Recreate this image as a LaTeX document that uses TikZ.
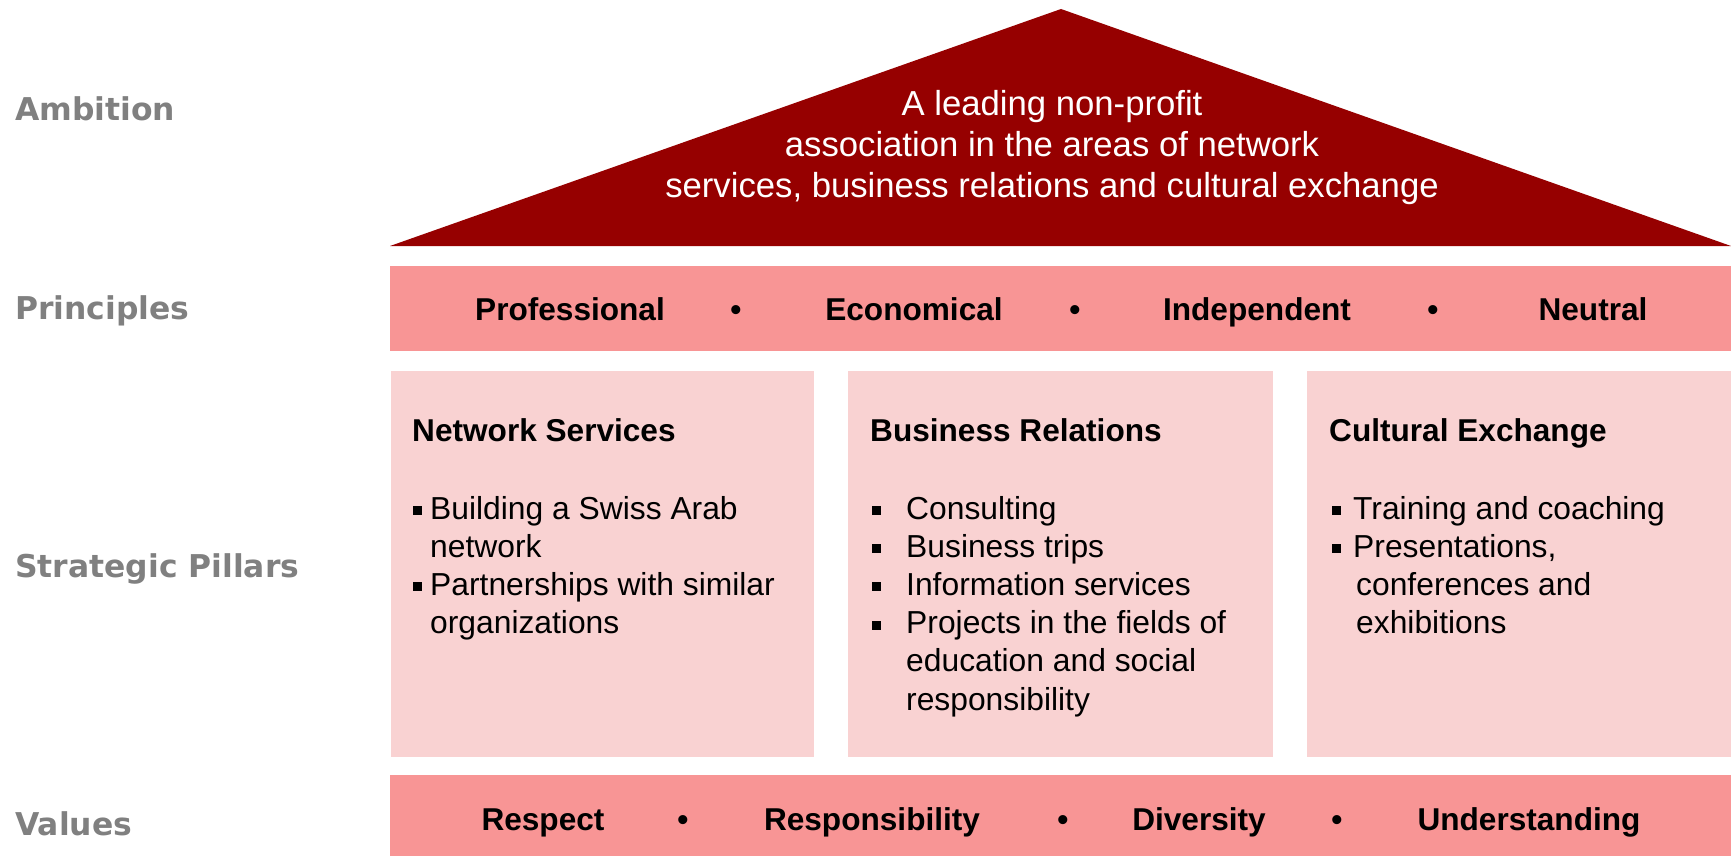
\documentclass[tikz,border=0pt]{standalone}
\usepackage{fontspec}
\setmainfont{Liberation Sans}
\newfontfamily\labelfont{DejaVu Sans}

\newlength{\du}
\setlength{\du}{1pt}

\definecolor{roofred}{RGB}{150,0,0}
\definecolor{barpink}{RGB}{248,149,149}
\definecolor{pillarpink}{RGB}{249,210,210}
\definecolor{labelgray}{RGB}{128,128,128}

% square bullet, #1 = distance to the text
\newcommand{\sqbul}[1]{\makebox[#1][l]{\rule[4\du]{9\du}{9\du}}}

\tikzset{
  layerlabel/.style={anchor=base west, inner sep=0pt, text=labelgray,
    font=\labelfont\bfseries\fontsize{31.4}{37}\selectfont},
  bartext/.style={anchor=base, inner sep=0pt,
    font=\bfseries\fontsize{31.6}{37}\selectfont},
  pillarhead/.style={anchor=base west, inner sep=0pt,
    font=\bfseries\fontsize{31.6}{37}\selectfont},
  % placed at the baseline of the last line
  pillarlist/.style={anchor=base west, inner sep=0pt, align=left,
    font=\fontsize{31.8}{38.2}\selectfont},
  rooftext/.style={anchor=center, inner sep=0pt, align=center, text=white,
    font=\fontsize{34.7}{41}\selectfont}
}

\begin{document}
\begin{tikzpicture}
\pgftransformyscale{-1.000000}
\useasboundingbox (0\du,0\du) rectangle (1731\du,856\du);

% layer names
\node[layerlabel] (ambition) at (15\du,121\du) {Ambition};
\node[layerlabel] (principles) at (15\du,319\du) {Principles};
\node[layerlabel] (pillars) at (15\du,577\du) {Strategic Pillars};
\node[layerlabel] (values) at (15\du,835\du) {Values};

% roof
\coordinate (roofL) at (390\du,246\du);
\coordinate (roofT) at (1061\du,9\du);
\coordinate (roofR) at (1731\du,246\du);
\fill[roofred] (roofL) -- (roofT) -- (roofR) -- cycle;
\node[rooftext] (ambitiontext) at (1052\du,148\du)
  {A leading non-profit\\association in the areas of network\\services, business relations and cultural exchange};

% principles bar
\fill[barpink] (390\du,266\du) rectangle (1731\du,351\du);
\node[bartext] (professional) at (570\du,320\du) {Professional};
\node[bartext] (pdot1) at (736\du,320\du) {•};
\node[bartext] (economical) at (914\du,320\du) {Economical};
\node[bartext] (pdot2) at (1075\du,320\du) {•};
\node[bartext] (independent) at (1257\du,320\du) {Independent};
\node[bartext] (pdot3) at (1433\du,320\du) {•};
\node[bartext] (neutral) at (1593\du,320\du) {Neutral};

% pillars
\fill[pillarpink] (391\du,371\du) rectangle (814\du,757\du);
\fill[pillarpink] (848\du,371\du) rectangle (1273\du,757\du);
\fill[pillarpink] (1307\du,371\du) rectangle (1731\du,757\du);

\node[pillarhead] (nethead) at (412\du,441\du) {Network Services};
\node[pillarlist] (netlist) at (413\du,633.6\du)
  {\sqbul{17\du}Building a Swiss Arab\\\hspace*{17\du}network\\\sqbul{17\du}Partnerships with similar\\\hspace*{17\du}organizations};

\node[pillarhead] (bushead) at (870\du,441\du) {Business Relations};
\node[pillarlist] (buslist) at (872\du,710\du)
  {\sqbul{34\du}Consulting\\\sqbul{34\du}Business trips\\\sqbul{34\du}Information services\\\sqbul{34\du}Projects in the fields of\\\hspace*{34\du}education and social\\\hspace*{34\du}responsibility};

\node[pillarhead] (culhead) at (1329\du,441\du) {Cultural Exchange};
\node[pillarlist] (cullist) at (1332\du,633.6\du)
  {\sqbul{21\du}Training and coaching\\\sqbul{21\du}Presentations,\\\hspace*{24\du}conferences and\\\hspace*{24\du}exhibitions};

% values bar
\fill[barpink] (390\du,775\du) rectangle (1731\du,856\du);
\node[bartext] (respect) at (543\du,830\du) {Respect};
\node[bartext] (vdot1) at (683\du,830\du) {•};
\node[bartext] (responsibility) at (872\du,830\du) {Responsibility};
\node[bartext] (vdot2) at (1063\du,830\du) {•};
\node[bartext] (diversity) at (1199\du,830\du) {Diversity};
\node[bartext] (vdot3) at (1337\du,830\du) {•};
\node[bartext] (understanding) at (1529\du,830\du) {Understanding};
\end{tikzpicture}
\end{document}
